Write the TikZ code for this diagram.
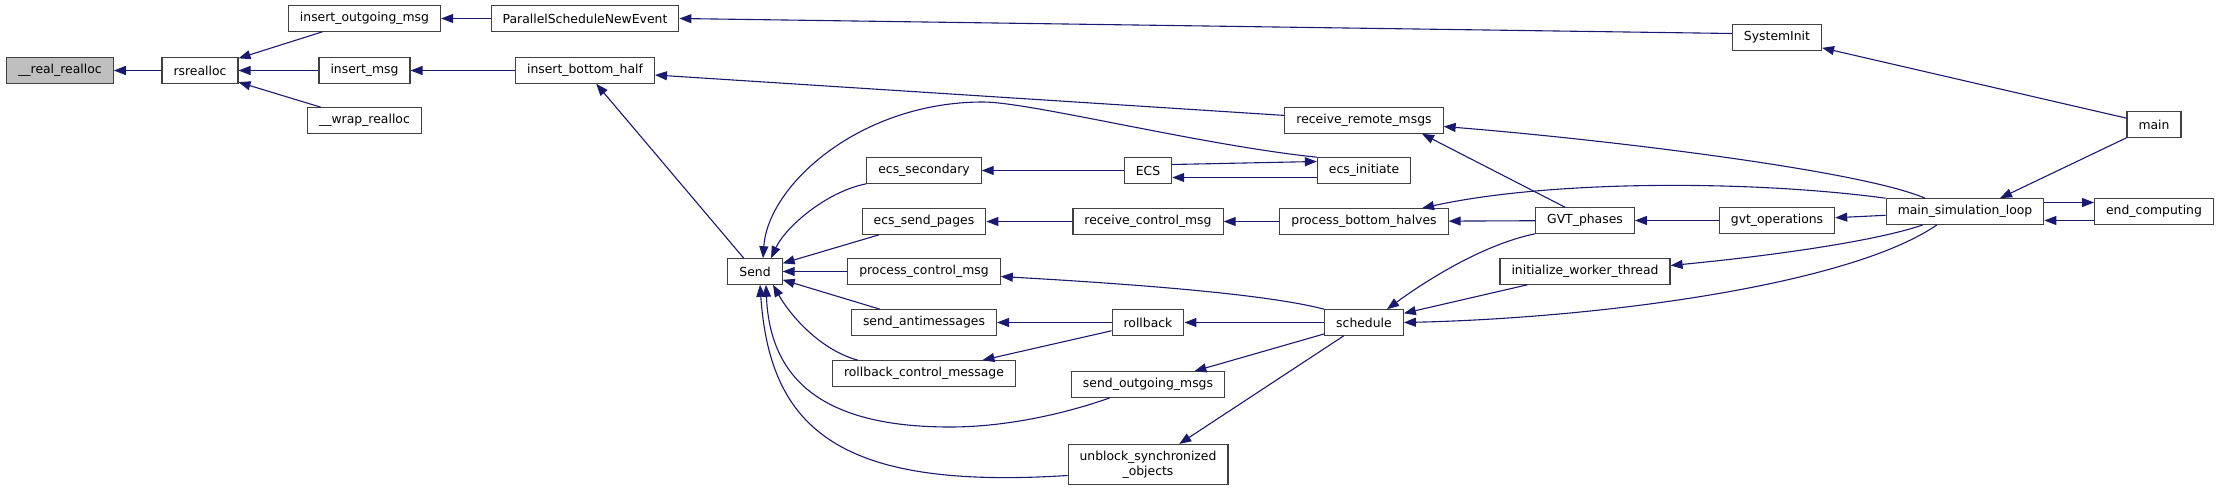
\documentclass[tikz,border=0pt]{standalone}
\usepackage{fontspec}
\setmainfont{DejaVu Sans}
\usepackage{xcolor}
\usepackage{tikz}
\usetikzlibrary{calc,arrows.meta}
\definecolor{edgeblue}{HTML}{191970}
\definecolor{rootgrey}{HTML}{BFBFBF}
\tikzset{
  fnode/.style    = {draw=black!75, fill=white, line width=1.1pt, inner xsep=11.5pt,
                     inner ysep=0pt, minimum height=25.5pt,
                     font=\fontsize{12.4}{15}\selectfont},
  rootnode/.style = {fnode, fill=rootgrey},
  call/.style     = {-{Triangle[length=12pt,width=9pt]}, draw=edgeblue, line width=1.1pt},
}

\begin{document}
\begin{tikzpicture}[x=1pt, y=-1pt]
  \useasboundingbox (0,0) rectangle (2220,490);
  \node[rootnode] (realloc) at (60, 70.5)   {\_\_real\_realloc};
  \node[fnode]    (rsr)     at (200, 70.5)  {rsrealloc};
  \node[fnode]    (iom)     at (364.5, 18.5) {insert\_outgoing\_msg};
  \node[fnode]    (psne)    at (585, 18.5)   {ParallelScheduleNewEvent};
  \node[fnode]    (imsg)    at (364.5, 70.5)  {insert\_msg};
  \node[fnode]    (wrap)    at (364.5, 120.5) {\_\_wrap\_realloc};
  \node[fnode]    (ibh)     at (585, 70.5)    {insert\_bottom\_half};
  \node[fnode]    (sinit)   at (1777, 37.5)   {SystemInit};
  \node[fnode]    (mainf)   at (2154, 124.5)  {main};
  \node[fnode]    (msl)     at (1965, 211.5) {main\_simulation\_loop};
  \node[fnode]    (endc)    at (2154, 211.5) {end\_computing};
  \node[fnode]    (gvtops)  at (1777, 220.5) {gvt\_operations};
  \node[fnode]    (gvtph)   at (1585, 220.5) {GVT\_phases};
  \node[fnode]    (iwt)     at (1585, 271.5) {initialize\_worker\_thread};
  \node[fnode]    (rrm)     at (1364, 120.5)  {receive\_remote\_msgs};
  \node[fnode]    (ecsi)    at (1364, 170.5) {ecs\_initiate};
  \node[fnode]    (pbh)     at (1364, 221.5) {process\_bottom\_halves};
  \node[fnode]    (sched)   at (1364, 322.5)  {schedule};
  \node[fnode]    (send)    at (755, 271.5) {Send};
  \node[fnode]    (ecss)    at (924, 170.5) {ecs\_secondary};
  \node[fnode]    (ecs)     at (1148, 170.5) {ECS};
  \node[fnode]    (esp)     at (924, 221.5) {ecs\_send\_pages};
  \node[fnode]    (rcmsg)   at (1148, 221.5) {receive\_control\_msg};
  \node[fnode]    (pcm)     at (924, 271.5) {process\_control\_msg};
  \node[fnode]    (santi)   at (924, 322.5)   {send\_antimessages};
  \node[fnode]    (rollb)   at (1148, 322.5)  {rollback};
  \node[fnode]    (rbcm)    at (924, 373.5)   {rollback\_control\_message};
  \node[fnode]    (som)     at (1148, 384.5)  {send\_outgoing\_msgs};
  \node[fnode, minimum height=40pt, align=center] (unblk) at (1148, 464.5)
    {unblock\_synchronized\\\_objects};

  \draw[call] (rsr) to (realloc);
  \draw[call] (iom) to (rsr);
  \draw[call] (imsg) to (rsr);
  \draw[call] (wrap) to (rsr);
  \draw[call] (psne) to (iom);
  \draw[call] ([yshift=4pt]sinit.west) to (psne.east);
  \draw[call] (ibh) to (imsg);
  \draw[call] (rrm) to (ibh);
  \draw[call] (send) to (ibh);
  \draw[call] (mainf) to (sinit);
  \draw[call] (mainf.south west) to ([xshift=35pt]msl.north);
  \draw[call] ([xshift=-40pt]msl.north) .. controls (1860,170) and (1600,139) .. ([yshift=-6pt]rrm.east);
  \draw[call] ([xshift=-20pt]gvtph.north) to ([xshift=58pt]rrm.south);
  \draw[call] (ecsi.north west) .. controls (1200,145) and (1030,102) .. (983,102)
    .. controls (860,102) and (768,185) .. ([xshift=8pt]send.north);
  \draw[call] (ecss.south west) .. controls (825,192) and (785,228) .. ([xshift=16pt]send.north);
  \draw[call] (ecs) to (ecss);
  \draw[call] ([yshift=6pt]ecs.east) to ([yshift=9pt]ecsi.west);
  \draw[call] ([yshift=-7pt]ecsi.west) to ([yshift=-7pt]ecs.east);
  \draw[call] (esp) to (send);
  \draw[call] (rcmsg) to (esp);
  \draw[call] (pbh) to (rcmsg);
  \draw[call] (gvtph) to (pbh);
  \draw[call] (msl.north west) .. controls (1750,180) and (1550,180) .. ([xshift=58pt]pbh.north);
  \draw[call] (gvtops) to (gvtph);
  \draw[call] (msl) to (gvtops);
  \draw[call] ([yshift=9pt]msl.east) to ([yshift=9pt]endc.west);
  \draw[call] ([yshift=-9pt]endc.west) to ([yshift=-9pt]msl.east);
  \draw[call] (pcm) to (send);
  \draw[call] (sched.north west) .. controls (1270,295) and (1150,285) .. ([yshift=-5pt]pcm.east);
  \draw[call] (santi) to (send);
  \draw[call] (rollb) to (santi);
  \draw[call] (sched) to (rollb);
  \draw[call] (rollb) to (rbcm);
  \draw[call] ([xshift=-66pt]rbcm.north) .. controls (820,350) and (790,315) .. ([xshift=18pt]send.south);
  \draw[call] ([xshift=-38pt]som.south) .. controls (1070,412) and (1010,427) .. (950,427)
    .. controls (830,427) and (770,385) .. ([xshift=11pt]send.south);
  \draw[call] (sched) to (som);
  \draw[call] ([yshift=-11pt]unblk.west) .. controls (840,490) and (770,430) .. ([xshift=5pt]send.south);
  \draw[call] (sched) to (unblk);
  \draw[call] (gvtph.south west) .. controls (1480,245) and (1420,285) .. ([xshift=23pt]sched.north);
  \draw[call] (iwt) to (sched);
  \draw[call] ([xshift=-28pt]msl.south) .. controls (1850,285) and (1600,318) .. (sched.east);
  \draw[call] ([xshift=-42pt]msl.south) .. controls (1880,240) and (1780,255) .. ([yshift=6pt]iwt.east);
\end{tikzpicture}
\end{document}
